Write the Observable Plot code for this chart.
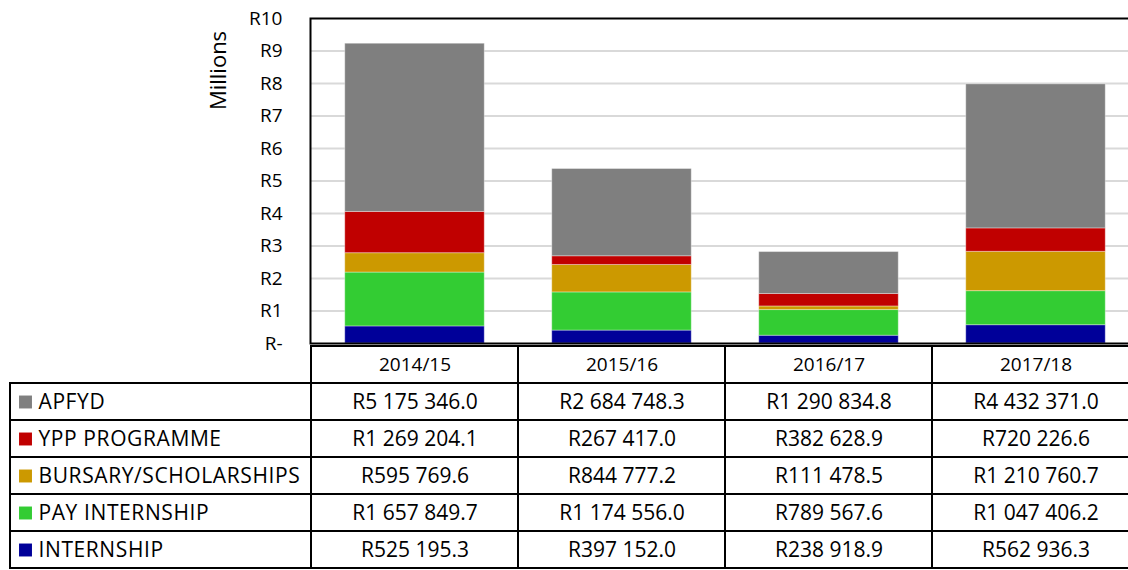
<!DOCTYPE html>
<html>
<head>
<meta charset="utf-8">
<script src="https://cdn.jsdelivr.net/npm/d3@7"></script>
<script src="https://cdn.jsdelivr.net/npm/@observablehq/plot@0.6"></script>
<style>
  html, body { margin: 0; padding: 0; background: white; }
  #chart { width: 1128px; height: 570px; overflow: hidden; font-family: "Open Sans", Lato, sans-serif; }
  #chart svg { display: block; }
</style>
</head>
<body>
<div id="chart"></div>
<script>
const years = ["2014/15", "2015/16", "2016/17", "2017/18"];
const seriesNames = ["APFYD", "YPP PROGRAMME", "BURSARY/SCHOLARSHIPS", "PAY INTERNSHIP", "INTERNSHIP"];
const seriesColors = ["#7f7f7f", "#c00000", "#cc9900", "#33cc33", "#000099"];
const apfyd = [5175346.0, 2684748.3, 1290834.8, 4432371.0];
const ypp = [1269204.1, 267417.0, 382628.9, 720226.6];
const bursary = [595769.6, 844777.2, 111478.5, 1210760.7];
const payInternship = [1657849.7, 1174556.0, 789567.6, 1047406.2];
const internship = [525195.3, 397152.0, 238918.9, 562936.3];
const yTicks = [0, 1, 2, 3, 4, 5, 6, 7, 8, 9, 10];

const valuesBySeries = [apfyd, ypp, bursary, payInternship, internship];

// long table; stacking order bottom -> top: INTERNSHIP first
const stackOrder = [4, 3, 2, 1, 0];
const data = [];
for (const si of stackOrder) {
  years.forEach((yr, i) => data.push({year: yr, series: seriesNames[si], value: valuesBySeries[si][i]}));
}

const locale = d3.formatLocale({decimal: ".", thousands: " ", grouping: [3], currency: ["R", ""]});
const fmt = locale.format("$,.1f");

const FONT = "'Open Sans', Lato, sans-serif";
const xRange = [310, 1140];

const chart = Plot.plot({
  width: 1128,
  height: 343,
  marginLeft: 310,
  marginRight: -12,
  marginTop: 18,
  marginBottom: 0,
  style: {fontFamily: FONT, fontSize: "19px", overflow: "visible", background: "transparent", color: "#000"},
  x: {domain: years, range: xRange, padding: 0, axis: null},
  y: {domain: [0, 10], axis: null},
  color: {domain: seriesNames, range: seriesColors},
  marks: [
    Plot.gridY(yTicks.filter(d => d > 0 && d < 10), {stroke: "#d9d9d9", strokeOpacity: 1, strokeWidth: 2}),
    Plot.barY(data, {
      x: "year",
      y: d => d.value / 1e6,
      fill: "series",
      insetLeft: 33.75,
      insetRight: 33.75,
      stroke: "white",
      strokeOpacity: 0.35,
      strokeWidth: 1
    }),
    Plot.axisY(yTicks, {
      tickSize: 0,
      tickPadding: 28,
      fontSize: 19,
      tickFormat: d => d === 0 ? "R-" : "R" + d,
      label: null
    }),
    Plot.text(["Millions"], {
      frameAnchor: "top-left",
      textAnchor: "middle",
      lineAnchor: "middle",
      dx: -92,
      dy: 52,
      rotate: -90,
      fontSize: 22,
      fill: "#000"
    }),
    Plot.frame({stroke: "#000", strokeWidth: 2})
  ]
});

// table
const rowDomain = ["__header", ...seriesNames];
const cells = [];
for (const r of rowDomain) for (const yr of years) {
  let text;
  if (r === "__header") text = yr;
  else {
    const si = seriesNames.indexOf(r);
    text = fmt(valuesBySeries[si][years.indexOf(yr)]);
  }
  cells.push({row: r, year: yr, text, header: r === "__header"});
}

const table = Plot.plot({
  width: 1128,
  height: 227,
  marginLeft: 10,
  marginRight: -12,
  marginTop: 0,
  marginBottom: 0,
  style: {fontFamily: FONT, fontSize: "19px", background: "transparent", overflow: "visible", color: "#000"},
  x: {domain: years, range: xRange, padding: 0, axis: null},
  y: {domain: rowDomain, padding: 0, axis: null},
  color: {domain: seriesNames, range: seriesColors},
  marks: [
    Plot.cell(seriesNames, {y: d => d, fill: "white", stroke: "#000", strokeWidth: 2}),
    Plot.cell(cells, {x: "year", y: "row", fill: "white", stroke: "#000", strokeWidth: 2}),
    Plot.text(cells.filter(d => !d.header), {x: "year", y: "row", text: "text", fontSize: 21, fill: "#000"}),
    Plot.text(cells.filter(d => d.header), {x: "year", y: "row", text: "text", fontSize: 19, fill: "#000"}),
    Plot.dot(seriesNames, {y: d => d, frameAnchor: "left", dx: 15, symbol: "square", r: 7.3, fill: d => d, stroke: null}),
    Plot.text(seriesNames, {y: d => d, text: d => d, frameAnchor: "left", dx: 28, textAnchor: "start", fontSize: 21, fill: "#000"})
  ]
});

// widen label text slightly, like the reference face
const textGroups = table.querySelectorAll('g[aria-label="text"]');
if (textGroups.length >= 3) textGroups[2].setAttribute("letter-spacing", "0.6");

const el = document.getElementById("chart");
el.append(chart, table);
</script>
</body>
</html>
